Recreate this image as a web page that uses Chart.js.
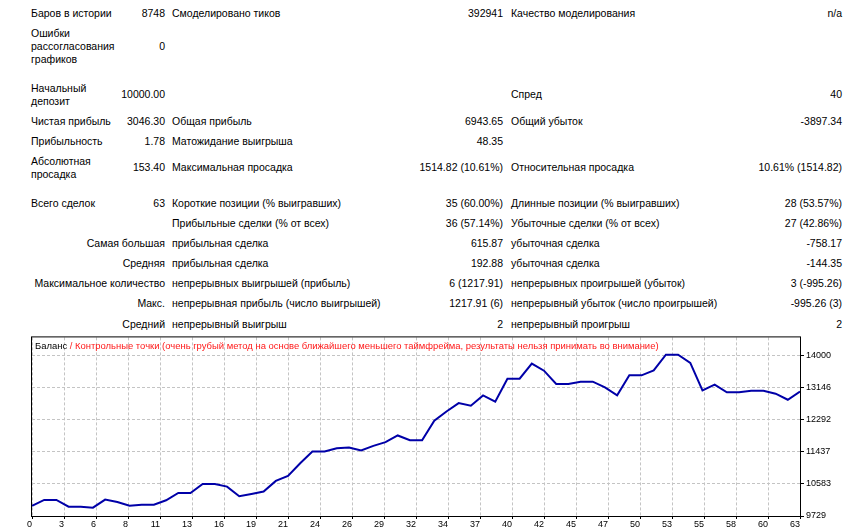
<!DOCTYPE html>
<html>
<head>
<meta charset="utf-8">
<script src="https://cdn.jsdelivr.net/npm/chart.js@4.4.0/dist/chart.umd.min.js"></script>
<style>
  html, body { margin: 0; padding: 0; background: #fff; }
  body { width: 860px; height: 532px; position: relative; overflow: hidden;
         font-family: "Liberation Sans", Arial, sans-serif; font-size: 10.5px; line-height: 13px; color: #000; }
  .t { position: absolute; white-space: nowrap; }
  .r { text-align: right; }
  .w { white-space: normal; width: 82px; }
  #chartWrap { position: absolute; left: 0; top: 330px; width: 860px; height: 202px; }
  #title { position: absolute; left: 35px; top: 340px; font-size: 9.45px; line-height: 12px; white-space: nowrap; }
  #title .red { color: #ff1818; }
</style>
</head>
<body>
<!-- report table -->
<div class="t" style="left:31px;top:7px">Баров в истории</div>
<div class="t r" style="left:100px;width:65px;top:7px">8748</div>
<div class="t" style="left:172px;top:7px">Смоделировано тиков</div>
<div class="t r" style="left:400px;width:103px;top:7px">392941</div>
<div class="t" style="left:511px;top:7px">Качество моделирования</div>
<div class="t r" style="left:740px;width:102px;top:7px">n/a</div>

<div class="t w" style="left:31px;top:27px">Ошибки рассогласования графиков</div>
<div class="t r" style="left:100px;width:65px;top:40px">0</div>

<div class="t w" style="left:31px;top:82px">Начальный депозит</div>
<div class="t r" style="left:100px;width:65px;top:88px">10000.00</div>
<div class="t" style="left:511px;top:88px">Спред</div>
<div class="t r" style="left:740px;width:102px;top:88px">40</div>

<div class="t" style="left:31px;top:115px">Чистая прибыль</div>
<div class="t r" style="left:100px;width:65px;top:115px">3046.30</div>
<div class="t" style="left:172px;top:115px">Общая прибыль</div>
<div class="t r" style="left:400px;width:103px;top:115px">6943.65</div>
<div class="t" style="left:511px;top:115px">Общий убыток</div>
<div class="t r" style="left:740px;width:102px;top:115px">-3897.34</div>

<div class="t" style="left:31px;top:135px">Прибыльность</div>
<div class="t r" style="left:100px;width:65px;top:135px">1.78</div>
<div class="t" style="left:172px;top:135px">Матожидание выигрыша</div>
<div class="t r" style="left:400px;width:103px;top:135px">48.35</div>

<div class="t w" style="left:31px;top:155px">Абсолютная просадка</div>
<div class="t r" style="left:100px;width:65px;top:161px">153.40</div>
<div class="t" style="left:172px;top:161px">Максимальная просадка</div>
<div class="t r" style="left:380px;width:123px;top:161px">1514.82 (10.61%)</div>
<div class="t" style="left:511px;top:161px">Относительная просадка</div>
<div class="t r" style="left:700px;width:142px;top:161px">10.61% (1514.82)</div>

<div class="t" style="left:31px;top:197px">Всего сделок</div>
<div class="t r" style="left:100px;width:65px;top:197px">63</div>
<div class="t" style="left:172px;top:197px">Короткие позиции (% выигравших)</div>
<div class="t r" style="left:380px;width:123px;top:197px">35 (60.00%)</div>
<div class="t" style="left:511px;top:197px">Длинные позиции (% выигравших)</div>
<div class="t r" style="left:700px;width:142px;top:197px">28 (53.57%)</div>

<div class="t" style="left:172px;top:217px">Прибыльные сделки (% от всех)</div>
<div class="t r" style="left:380px;width:123px;top:217px">36 (57.14%)</div>
<div class="t" style="left:511px;top:217px">Убыточные сделки (% от всех)</div>
<div class="t r" style="left:700px;width:142px;top:217px">27 (42.86%)</div>

<div class="t r" style="left:0;width:165px;top:237px">Самая большая</div>
<div class="t" style="left:172px;top:237px">прибыльная сделка</div>
<div class="t r" style="left:380px;width:123px;top:237px">615.87</div>
<div class="t" style="left:511px;top:237px">убыточная сделка</div>
<div class="t r" style="left:700px;width:142px;top:237px">-758.17</div>

<div class="t r" style="left:0;width:165px;top:257px">Средняя</div>
<div class="t" style="left:172px;top:257px">прибыльная сделка</div>
<div class="t r" style="left:380px;width:123px;top:257px">192.88</div>
<div class="t" style="left:511px;top:257px">убыточная сделка</div>
<div class="t r" style="left:700px;width:142px;top:257px">-144.35</div>

<div class="t r" style="left:0;width:165px;top:277px">Максимальное количество</div>
<div class="t" style="left:172px;top:277px">непрерывных выигрышей (прибыль)</div>
<div class="t r" style="left:380px;width:123px;top:277px">6 (1217.91)</div>
<div class="t" style="left:511px;top:277px">непрерывных проигрышей (убыток)</div>
<div class="t r" style="left:700px;width:142px;top:277px">3 (-995.26)</div>

<div class="t r" style="left:0;width:165px;top:297px">Макс.</div>
<div class="t" style="left:172px;top:297px">непрерывная прибыль (число выигрышей)</div>
<div class="t r" style="left:380px;width:123px;top:297px">1217.91 (6)</div>
<div class="t" style="left:511px;top:297px">непрерывный убыток (число проигрышей)</div>
<div class="t r" style="left:700px;width:142px;top:297px">-995.26 (3)</div>

<div class="t r" style="left:0;width:165px;top:318px">Средний</div>
<div class="t" style="left:172px;top:318px">непрерывный выигрыш</div>
<div class="t r" style="left:380px;width:123px;top:318px">2</div>
<div class="t" style="left:511px;top:318px">непрерывный проигрыш</div>
<div class="t r" style="left:700px;width:142px;top:318px">2</div>

<div id="chartWrap"><canvas id="balanceChart" width="860" height="202"></canvas></div>
<div id="title">Баланс <span class="red">/ Контрольные точки (очень грубый метод на основе ближайшего меньшего таймфрейма, результаты нельзя принимать во внимание)</span></div>

<script>
// Balance after each trade (trade 0 = initial deposit)
const balance = [
    10000, 10156, 10156, 9978, 9978, 9950, 10165, 10103, 10005, 10031,
    10031, 10147, 10343, 10343, 10583, 10583, 10512, 10254, 10316, 10379,
    10663, 10797, 11135, 11446, 11446, 11535, 11553, 11473, 11598, 11696,
    11874, 11749, 11749, 12265, 12514, 12737, 12666, 12942, 12772, 13387,
    13387, 13787, 13600, 13244, 13244, 13306, 13306, 13155, 12942, 13476,
    13476, 13609, 14027, 14027, 13805, 13075, 13226, 13022, 13022, 13066,
    13066, 12986, 12826, 13046
];

// Axis tick labels as printed by the tester
const xTickLabels = ['0', '3', '6', '8', '11', '13', '16', '19', '21', '24', '26', '29', '32',
    '34', '37', '40', '42', '45', '47', '50', '53', '55', '58', '60', '63'];
const yTickValues = [9729, 10583, 11437, 12292, 13146, 14000];
const yMin = 9729;
const yMax = 14486;

const tradeCount = balance.length - 1;

// Black frame round the plot area
const framePlugin = {
    id: 'frame',
    afterDraw(chart) {
        const { ctx, chartArea } = chart;
        ctx.save();
        ctx.strokeStyle = '#000';
        ctx.lineWidth = 1;
        ctx.strokeRect(chartArea.left - 0.5, chartArea.top - 0.5,
            chartArea.right - chartArea.left + 1, chartArea.bottom - chartArea.top + 1);
        ctx.restore();
    }
};

const tickFont = { family: 'Liberation Sans', size: 9 };

new Chart(document.getElementById('balanceChart'), {
    type: 'line',
    data: {
        datasets: [{
            label: 'Баланс',
            data: balance.map((v, i) => ({ x: i, y: v })),
            borderColor: '#0000a8',
            borderWidth: 2,
            pointRadius: 0,
            tension: 0,
            fill: false
        }]
    },
    options: {
        responsive: false,
        animation: false,
        devicePixelRatio: 1,
        layout: { padding: { left: 32, top: 7, right: 0, bottom: 0 } },
        plugins: {
            legend: { display: false },
            tooltip: { enabled: false }
        },
        scales: {
            x: {
                type: 'linear',
                min: 0,
                max: tradeCount,
                afterBuildTicks: scale => {
                    scale.ticks = xTickLabels.map((l, k) => ({ value: k * tradeCount / (xTickLabels.length - 1) }));
                },
                afterFit: scale => { scale.height = 16; },
                ticks: {
                    autoSkip: false,
                    maxRotation: 0,
                    align: 'end',
                    padding: 0,
                    color: '#000',
                    font: tickFont,
                    callback: (v, i) => xTickLabels[i]
                },
                grid: { color: '#c4c4c4', tickLength: 3, tickColor: '#000', tickBorderDash: [] },
                border: { display: false, dash: [3, 2] }
            },
            y: {
                position: 'right',
                min: yMin,
                max: yMax,
                afterBuildTicks: scale => {
                    scale.ticks = yTickValues.map(v => ({ value: v }));
                },
                afterFit: scale => { scale.width = 60; },
                ticks: {
                    padding: 2,
                    color: '#000',
                    font: tickFont,
                    callback: v => String(v)
                },
                grid: { color: '#c4c4c4', tickLength: 4, tickColor: '#000', tickBorderDash: [] },
                border: { display: false, dash: [3, 2] }
            }
        }
    },
    plugins: [framePlugin]
});
</script>
</body>
</html>
